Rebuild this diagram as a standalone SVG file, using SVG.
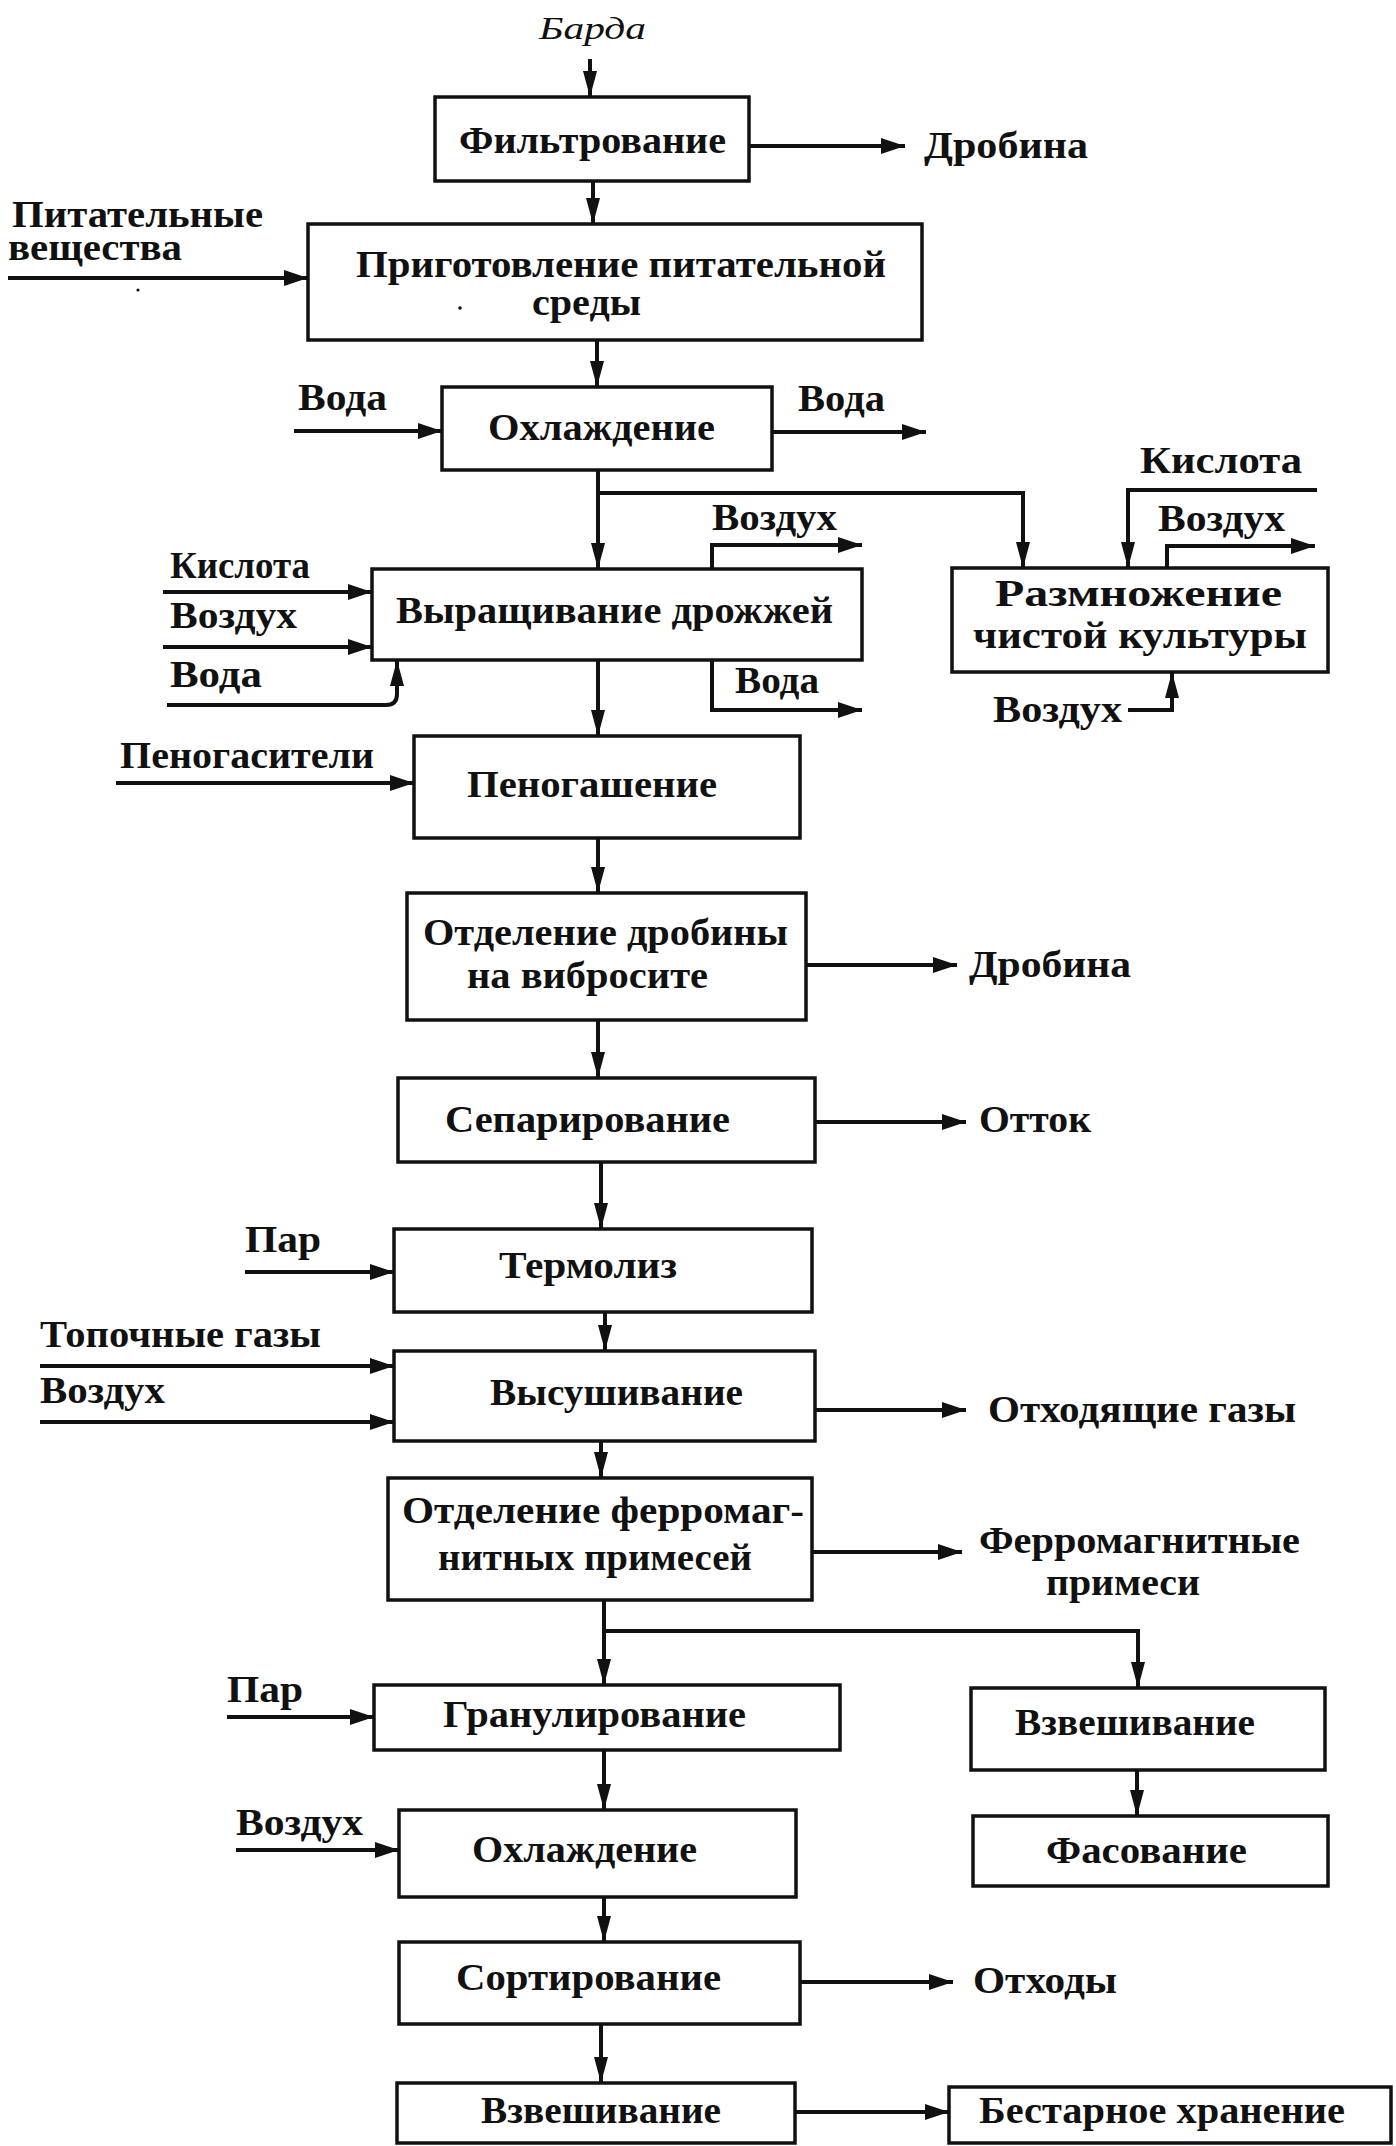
<svg xmlns="http://www.w3.org/2000/svg" width="1396" height="2146" viewBox="0 0 1396 2146">
  <style>
    .box { fill: #fff; stroke: #111; stroke-width: 3.5; }
    .ln { fill: none; stroke: #111; stroke-width: 4; stroke-linejoin: miter; }
    .h { marker-end: url(#ah); }
    .v { marker-end: url(#av); }
    .t { font-family: "Liberation Serif", "DejaVu Serif", serif; font-weight: bold; font-size: 37px; fill: #111; }
    .it { font-family: "Liberation Serif", "DejaVu Serif", serif; font-style: italic; font-size: 32px; fill: #111; }
  </style>
  <defs>
    <marker id="ah" markerUnits="userSpaceOnUse" markerWidth="26" markerHeight="16" refX="24" refY="8" orient="auto" overflow="visible">
      <path d="M0,0 L24,8 L0,16 z" fill="#111"/>
    </marker>
    <marker id="av" markerUnits="userSpaceOnUse" markerWidth="28" markerHeight="14" refX="26" refY="7" orient="auto" overflow="visible">
      <path d="M0,0 L26,7 L0,14 z" fill="#111"/>
    </marker>
  </defs>
  <rect width="1396" height="2146" fill="#fff"/>

  <!-- connectors -->
  <g id="connectors">
    <path class="ln v" d="M590,59 V97"/>
    <path class="ln h" d="M749,146 H905"/>
    <path class="ln v" d="M593,181 V224"/>
    <path class="ln h" d="M8,278 H308"/>
    <path class="ln v" d="M597,340 V387"/>
    <path class="ln h" d="M294,431 H442"/>
    <path class="ln h" d="M772,432 H926"/>
    <path class="ln v" d="M598,470 V569"/>
    <path class="ln v" d="M598,493 H1023 V568"/>
    <path class="ln h" d="M712,569 V545 H862"/>
    <path class="ln h" d="M163,592 H372"/>
    <path class="ln h" d="M163,647 H372"/>
    <path class="ln v" d="M167,705 H386 Q397,705 397,694 V660"/>
    <path class="ln h" d="M712,660 V710 H862"/>
    <path class="ln v" d="M598,660 V736"/>
    <path class="ln v" d="M1317,490 H1128 V568"/>
    <path class="ln h" d="M1167,568 V546 H1315"/>
    <path class="ln v" d="M1128,710 H1172 V672"/>
    <path class="ln h" d="M116,783 H414"/>
    <path class="ln v" d="M598,838 V893"/>
    <path class="ln h" d="M806,965 H957"/>
    <path class="ln v" d="M598,1020 V1078"/>
    <path class="ln h" d="M815,1122 H966"/>
    <path class="ln v" d="M601,1162 V1229"/>
    <path class="ln h" d="M245,1272 H394"/>
    <path class="ln v" d="M605,1312 V1351"/>
    <path class="ln h" d="M40,1366 H394"/>
    <path class="ln h" d="M40,1422 H394"/>
    <path class="ln h" d="M815,1410 H966"/>
    <path class="ln v" d="M601,1441 V1478"/>
    <path class="ln h" d="M812,1552 H962"/>
    <path class="ln v" d="M604,1600 V1685"/>
    <path class="ln v" d="M604,1631 H1138 V1688"/>
    <path class="ln h" d="M227,1717 H374"/>
    <path class="ln v" d="M604,1750 V1810"/>
    <path class="ln v" d="M1137,1770 V1816"/>
    <path class="ln h" d="M236,1850 H399"/>
    <path class="ln v" d="M604,1897 V1942"/>
    <path class="ln h" d="M800,1982 H953"/>
    <path class="ln v" d="M601,2024 V2083"/>
    <path class="ln h" d="M795,2112 H949"/>
  </g>

  <!-- process blocks -->
  <g id="filtr">
    <rect class="box" x="435" y="97" width="314" height="84"/>
    <text class="t" x="459" y="153" textLength="267" lengthAdjust="spacingAndGlyphs">Фильтрование</text>
  </g>
  <g id="prigotovlenie">
    <rect class="box" x="308" y="224" width="614" height="116"/>
    <text class="t" x="356" y="277" textLength="530" lengthAdjust="spacingAndGlyphs">Приготовление питательной</text>
    <text class="t" x="532" y="315" textLength="109" lengthAdjust="spacingAndGlyphs">среды</text>
  </g>
  <g id="ohlazhdenie1">
    <rect class="box" x="442" y="387" width="330" height="83"/>
    <text class="t" x="488" y="440" textLength="227" lengthAdjust="spacingAndGlyphs">Охлаждение</text>
  </g>
  <g id="vyrashchivanie">
    <rect class="box" x="372" y="569" width="490" height="91"/>
    <text class="t" x="396" y="623" textLength="437" lengthAdjust="spacingAndGlyphs">Выращивание дрожжей</text>
  </g>
  <g id="razmnozhenie">
    <rect class="box" x="952" y="568" width="376" height="104"/>
    <text class="t" x="995" y="606" textLength="287" lengthAdjust="spacingAndGlyphs">Размножение</text>
    <text class="t" x="973" y="648" textLength="334" lengthAdjust="spacingAndGlyphs">чистой культуры</text>
  </g>
  <g id="penogashenie">
    <rect class="box" x="414" y="736" width="386" height="102"/>
    <text class="t" x="467" y="797" textLength="250" lengthAdjust="spacingAndGlyphs">Пеногашение</text>
  </g>
  <g id="otdelenie-drobiny">
    <rect class="box" x="407" y="893" width="399" height="127"/>
    <text class="t" x="423" y="945" textLength="365" lengthAdjust="spacingAndGlyphs">Отделение дробины</text>
    <text class="t" x="467" y="988" textLength="241" lengthAdjust="spacingAndGlyphs">на виброситe</text>
  </g>
  <g id="separirovanie">
    <rect class="box" x="398" y="1078" width="417" height="84"/>
    <text class="t" x="445" y="1132" textLength="285" lengthAdjust="spacingAndGlyphs">Сепарирование</text>
  </g>
  <g id="termoliz">
    <rect class="box" x="394" y="1229" width="418" height="83"/>
    <text class="t" x="499" y="1278" textLength="178" lengthAdjust="spacingAndGlyphs">Термолиз</text>
  </g>
  <g id="vysushivanie">
    <rect class="box" x="394" y="1351" width="421" height="90"/>
    <text class="t" x="490" y="1405" textLength="253" lengthAdjust="spacingAndGlyphs">Высушивание</text>
  </g>
  <g id="otdelenie-ferro">
    <rect class="box" x="388" y="1478" width="424" height="122"/>
    <text class="t" x="402" y="1523" textLength="402" lengthAdjust="spacingAndGlyphs">Отделение ферромаг-</text>
    <text class="t" x="438" y="1570" textLength="314" lengthAdjust="spacingAndGlyphs">нитных примесей</text>
  </g>
  <g id="granulirovanie">
    <rect class="box" x="374" y="1685" width="466" height="65"/>
    <text class="t" x="443" y="1727" textLength="303" lengthAdjust="spacingAndGlyphs">Гранулирование</text>
  </g>
  <g id="vzveshivanie1">
    <rect class="box" x="971" y="1688" width="354" height="82"/>
    <text class="t" x="1015" y="1735" textLength="240" lengthAdjust="spacingAndGlyphs">Взвешивание</text>
  </g>
  <g id="fasovanie">
    <rect class="box" x="973" y="1816" width="355" height="70"/>
    <text class="t" x="1046" y="1863" textLength="201" lengthAdjust="spacingAndGlyphs">Фасование</text>
  </g>
  <g id="ohlazhdenie2">
    <rect class="box" x="399" y="1810" width="397" height="87"/>
    <text class="t" x="472" y="1862" textLength="225" lengthAdjust="spacingAndGlyphs">Охлаждение</text>
  </g>
  <g id="sortirovanie">
    <rect class="box" x="399" y="1942" width="401" height="82"/>
    <text class="t" x="456" y="1990" textLength="265" lengthAdjust="spacingAndGlyphs">Сортирование</text>
  </g>
  <g id="vzveshivanie2">
    <rect class="box" x="397" y="2083" width="398" height="60"/>
    <text class="t" x="481" y="2123" textLength="240" lengthAdjust="spacingAndGlyphs">Взвешивание</text>
  </g>
  <g id="bestarnoe">
    <rect class="box" x="949" y="2087" width="442" height="56"/>
    <text class="t" x="979" y="2123" textLength="366" lengthAdjust="spacingAndGlyphs">Бестарное хранение</text>
  </g>

  <!-- stream labels -->
  <g id="labels">
    <text class="it" x="539" y="39" textLength="107" lengthAdjust="spacingAndGlyphs">Барда</text>
    <text class="t" x="924" y="158" textLength="164" lengthAdjust="spacingAndGlyphs">Дробина</text>
    <text class="t" x="12" y="227" textLength="251" lengthAdjust="spacingAndGlyphs">Питательные</text>
    <text class="t" x="8" y="260" textLength="174" lengthAdjust="spacingAndGlyphs">вещества</text>
    <text class="t" x="298" y="410" textLength="89" lengthAdjust="spacingAndGlyphs">Вода</text>
    <text class="t" x="798" y="411" textLength="87" lengthAdjust="spacingAndGlyphs">Вода</text>
    <text class="t" x="712" y="530" textLength="125" lengthAdjust="spacingAndGlyphs">Воздух</text>
    <text class="t" x="170" y="578" textLength="140" lengthAdjust="spacingAndGlyphs">Кислота</text>
    <text class="t" x="170" y="628" textLength="127" lengthAdjust="spacingAndGlyphs">Воздух</text>
    <text class="t" x="170" y="687" textLength="92" lengthAdjust="spacingAndGlyphs">Вода</text>
    <text class="t" x="735" y="693" textLength="84" lengthAdjust="spacingAndGlyphs">Вода</text>
    <text class="t" x="1140" y="473" textLength="162" lengthAdjust="spacingAndGlyphs">Кислота</text>
    <text class="t" x="1158" y="531" textLength="127" lengthAdjust="spacingAndGlyphs">Воздух</text>
    <text class="t" x="993" y="722" textLength="129" lengthAdjust="spacingAndGlyphs">Воздух</text>
    <text class="t" x="120" y="768" textLength="254" lengthAdjust="spacingAndGlyphs">Пеногасители</text>
    <text class="t" x="969" y="977" textLength="162" lengthAdjust="spacingAndGlyphs">Дробина</text>
    <text class="t" x="979" y="1132" textLength="112" lengthAdjust="spacingAndGlyphs">Отток</text>
    <text class="t" x="245" y="1252" textLength="76" lengthAdjust="spacingAndGlyphs">Пар</text>
    <text class="t" x="40" y="1347" textLength="281" lengthAdjust="spacingAndGlyphs">Топочные газы</text>
    <text class="t" x="40" y="1403" textLength="125" lengthAdjust="spacingAndGlyphs">Воздух</text>
    <text class="t" x="988" y="1422" textLength="308" lengthAdjust="spacingAndGlyphs">Отходящие газы</text>
    <text class="t" x="979" y="1553" textLength="321" lengthAdjust="spacingAndGlyphs">Ферромагнитные</text>
    <text class="t" x="1046" y="1595" textLength="154" lengthAdjust="spacingAndGlyphs">примеси</text>
    <text class="t" x="227" y="1702" textLength="76" lengthAdjust="spacingAndGlyphs">Пар</text>
    <text class="t" x="236" y="1835" textLength="127" lengthAdjust="spacingAndGlyphs">Воздух</text>
    <text class="t" x="973" y="1993" textLength="144" lengthAdjust="spacingAndGlyphs">Отходы</text>
  </g>

  <!-- print specks -->
  <circle cx="138" cy="290" r="1.6" fill="#111"/>
  <circle cx="460" cy="308" r="1.8" fill="#111"/>
</svg>
